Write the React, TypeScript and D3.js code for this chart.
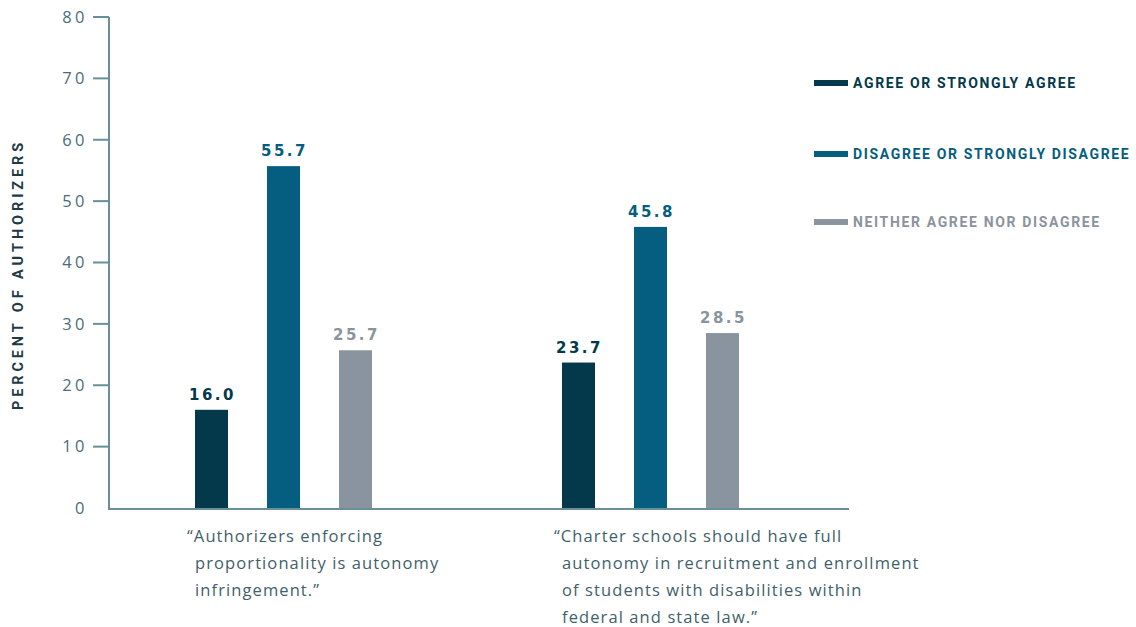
import React from "react";
import * as d3 from "d3";

const categories = ["q1", "q2"];
const categoryLines = [
  ["\u201cAuthorizers enforcing", "proportionality is autonomy", "infringement.\u201d"],
  ["\u201cCharter schools should have full", "autonomy in recruitment and enrollment", "of students with disabilities within", "federal and state law.\u201d"],
];
const seriesNames = ["AGREE OR STRONGLY AGREE", "DISAGREE OR STRONGLY DISAGREE", "NEITHER AGREE NOR DISAGREE"];
const agreeValues = [16.0, 23.7];
const disagreeValues = [55.7, 45.8];
const neitherValues = [25.7, 28.5];
const yTicks = [0, 10, 20, 30, 40, 50, 60, 70, 80];
const colors = ["#03394a", "#055e80", "#8a949e"];

export default function App() {
  const W = 1136, H = 627;
  const y = d3.scaleLinear().domain([0, 80]).range([508, 17]);
  const x0 = d3.scaleBand().domain(categories).range([100, 834]).padding(0);
  const x1 = d3.scaleBand().domain(["0", "1", "2"]).range([0, 177]).paddingInner(39 / 72).paddingOuter(0);
  const series = [agreeValues, disagreeValues, neitherValues];
  const axisColor = "#6b8e9b";
  const textColor = "#3f5f6b";
  const labelFont = "'Open Sans', sans-serif";
  return (
    <svg width={W} height={H} style={{ position: "absolute", left: 0, top: 0, background: "#fff" }}>
      <line x1={109} x2={109} y1={y(80)} y2={y(0) + 1} stroke={axisColor} strokeWidth={2} />
      <line x1={108} x2={849} y1={y(0) + 1} y2={y(0) + 1} stroke={axisColor} strokeWidth={2} />
      {yTicks.map((t) => (
        <g key={t}>
          {t > 0 && <line x1={93} x2={109} y1={y(t)} y2={y(t)} stroke={axisColor} strokeWidth={2} />}
          <text x={88} y={y(t)} dy="0.35em" textAnchor="end" fontFamily={labelFont} fontSize={16.5}
            letterSpacing={3.5} fill="#4d6c78">{t}</text>
        </g>
      ))}
      <text transform={`translate(23,${(y(0) + y(80)) / 2 + 12}) rotate(-90)`} textAnchor="middle"
        fontFamily="'Roboto', sans-serif" fontWeight={700} fontSize={14.5} letterSpacing={3.9} fill="#1e3a45">
        PERCENT OF AUTHORIZERS
      </text>
      {categories.map((c, ci) => (
        <g key={c} transform={`translate(${(x0(c) as number) + x0.bandwidth() / 2 - 88.5},0)`}>
          {series.map((vals, si) => {
            const bx = x1(String(si)) as number;
            const v = vals[ci];
            return (
              <g key={si}>
                <rect x={bx} y={y(v)} width={x1.bandwidth()} height={y(0) - y(v)} fill={colors[si]} />
                <text x={bx + x1.bandwidth() / 2 + 1} y={y(v) - 10} textAnchor="middle"
                  fontFamily="'DejaVu Sans', sans-serif" fontWeight={700} fontSize={15} letterSpacing={2.5}
                  fill={colors[si]}>{v.toFixed(1)}</text>
              </g>
            );
          })}
          {categoryLines[ci].map((line, li) => (
            <text key={li} x={li === 0 ? -8 : 0} y={542 + li * 27} fontFamily={labelFont} fontSize={16.5}
              letterSpacing={1.1} fill={textColor}>{line}</text>
          ))}
        </g>
      ))}
      {seriesNames.map((n, i) => {
        const ly = [83, 154, 222][i];
        return (
          <g key={n}>
            <rect x={814} y={ly - 3} width={34} height={6} fill={colors[i]} />
            <text x={853} y={ly} dy="0.36em" fontFamily="'Roboto', sans-serif" fontWeight={700} fontSize={14}
              letterSpacing={1.65} fill={colors[i]}>{n}</text>
          </g>
        );
      })}
    </svg>
  );
}
